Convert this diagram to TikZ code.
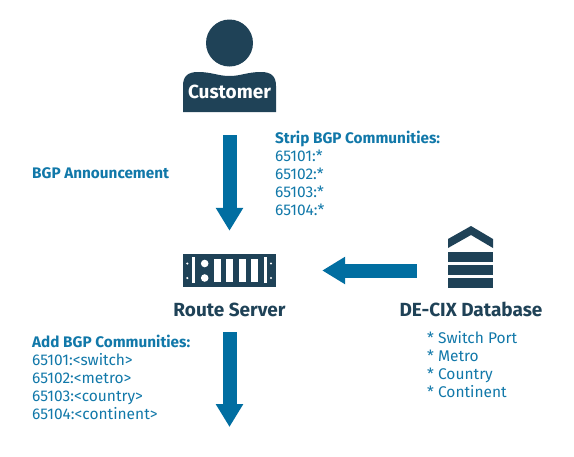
\documentclass[tikz,border=0pt]{standalone}
\usepackage{fontspec}
\setmainfont{Fira Sans}
\usepackage{xcolor}
\usetikzlibrary{positioning, calc, arrows.meta}

\definecolor{darkteal}{HTML}{1F4257}
\definecolor{flowblue}{HTML}{016EA1}
\definecolor{textblue}{HTML}{1178A9}

\begin{document}
\begin{tikzpicture}[x=1pt, y=-1pt,
    flowarrow/.style={draw=flowblue, line width=14pt, -{Triangle[length=23pt,width=26pt,fill=flowblue]}},
    infotext/.style={text=textblue, font=\fontsize{15.5}{18}\selectfont, align=left, anchor=west, inner sep=0pt},
    titletext/.style={text=darkteal, font=\fontsize{19}{20}\selectfont\bfseries, inner sep=0pt},
    slot/.style={fill=white}]

    \useasboundingbox (0,0) rectangle (574,456);

    % --- CUSTOMER ICON ---
    \fill[darkteal] (229.5,43) circle (23.5);
    \fill[darkteal] (183,112) -- (183,86) .. controls (183,76) and (188,72) .. (198,72)
        .. controls (212,72) and (218,76) .. (229.5,76)
        .. controls (241,76) and (247,72) .. (261,72)
        .. controls (271,72) and (276,76) .. (276,86) -- (276,112) -- cycle;
    \node[minimum width=93pt, minimum height=40pt, inner sep=0pt, text=white,
        font=\fontsize{19}{20}\selectfont\bfseries] (customer) at (229.5,92) {\raisebox{-2.5pt}{Customer}};

    % --- ROUTE SERVER ICON ---
    \node[fill=darkteal, minimum width=93pt, minimum height=33pt, inner sep=0pt] (rack) at (229.5,270.5) {};
    \foreach \x in {214,226.3,238.7,251}
        \fill[slot] (\x,259.3) rectangle ++(6.8,23);
    \foreach \x in {191.7,263.5}
        \fill[slot] (\x,257) rectangle ++(3,26);
    \foreach \y in {263.5,278} {
        \fill[slot] (204.7,\y) circle (3.8);
        \fill[slot] (187.3,\y) circle (1.2);
        \fill[slot] (271,\y) circle (1.2);
    }
    \node[titletext] (routelabel) at (229.5,310) {Route Server};

    % --- DATABASE ICON ---
    \node[minimum width=45pt, minimum height=33pt, inner sep=0pt] (db) at (470.5,270.5) {};
    \fill[darkteal] (448,248) -- (448,239) -- (471,226) -- (493,239) -- (493,248) -- (471,235) -- cycle;
    \foreach \y in {252,265,278}
        \fill[darkteal] (448,\y) rectangle (493,\y+9.5);
    \node[titletext] (dblabel) at (471,309) {DE-CIX Database};
    \node[infotext] (dbfields) at (427,365) {* Switch Port\\* Metro\\* Country\\* Continent};

    % --- TEXT BLOCKS ---
    \node[infotext, font=\fontsize{15.3}{18}\selectfont\bfseries] (announce) at (32,173) {BGP Announcement};
    \node[infotext] (strip) at (275,173) {{\fontsize{15.3}{18}\selectfont\bfseries Strip BGP Communities:}\\65101:*\\65102:*\\65103:*\\65104:*};
    \node[infotext] (add) at (32,377) {{\fontsize{15.3}{18}\selectfont\bfseries Add BGP Communities:}\\65101:<switch>\\65102:<metro>\\65103:<country>\\65104:<continent>};

    % --- ARROWS ---
    \coordinate (out) at (229.5,427);
    \draw[flowarrow, shorten <=23pt, shorten >=23pt] (customer) -- (rack);
    \draw[flowarrow, shorten <=31pt, shorten >=46pt] (db) -- (rack);
    \draw[flowarrow, shorten <=15pt] (routelabel.south) -- (out);

\end{tikzpicture}
\end{document}
